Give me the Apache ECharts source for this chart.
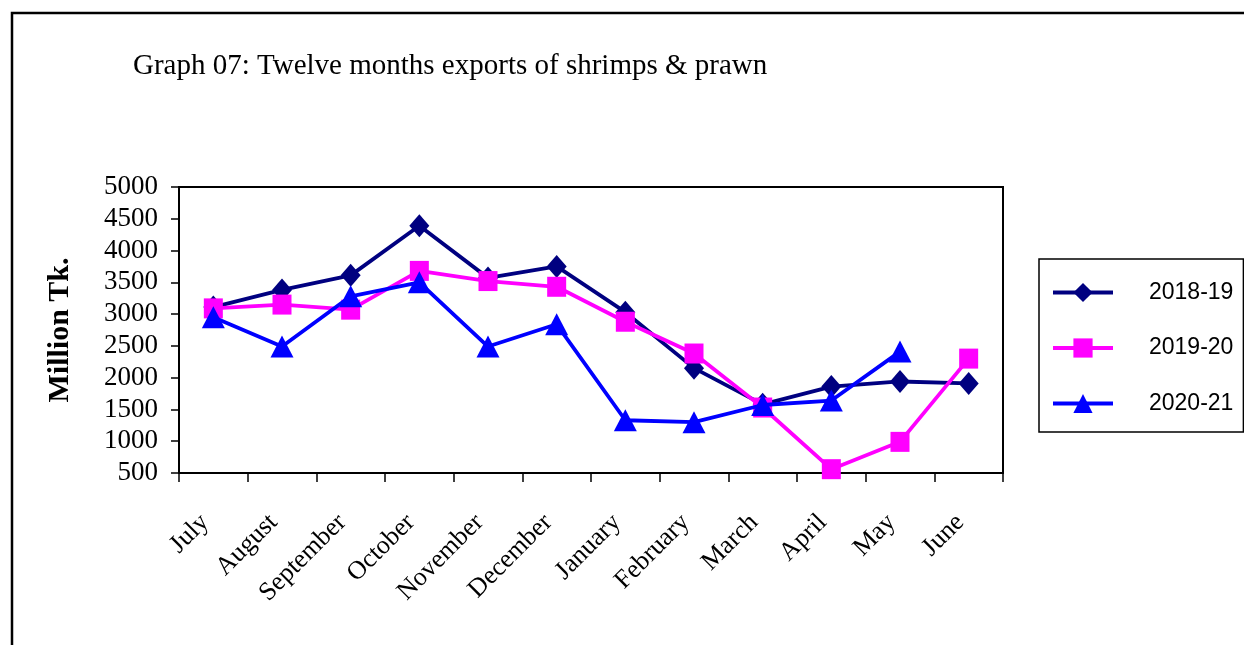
<!DOCTYPE html>
<html>
<head>
<meta charset="utf-8">
<script src="https://cdn.jsdelivr.net/npm/echarts@6/dist/echarts.min.js"></script>
<style>
html,body{margin:0;padding:0;background:#fff;}
#chart{width:1244px;height:645px;}
</style>
</head>
<body>
<div id="chart"></div>
<script>
const titleText = 'Graph 07: Twelve months exports of shrimps & prawn';
const months = ['July','August','September','October','November','December','January','February','March','April','May','June'];
const seriesNames = ['2018-19','2019-20','2020-21'];
const s2018 = [3110, 3380, 3610, 4390, 3570, 3750, 3030, 2150, 1580, 1860, 1940, 1910];
const s2019 = [3090, 3150, 3070, 3680, 3520, 3430, 2880, 2380, 1530, 560, 990, 2300];
const s2020 = [2950, 2490, 3280, 3500, 2490, 2840, 1330, 1300, 1570, 1640, 2410, null];
const yTicks = {min: 500, max: 5000, interval: 500};
const yName = 'Million Tk.';

const serif = "'Liberation Serif', 'Times New Roman', serif";
const sans = "'Liberation Sans', Arial, sans-serif";
const chart = echarts.init(document.getElementById('chart'), null, {renderer: 'canvas'});
chart.setOption({
  backgroundColor: '#ffffff',
  animation: false,
  title: {
    text: titleText,
    left: 128, top: 47,
    textStyle: {fontFamily: serif, fontSize: 29, fontWeight: 'normal', color: '#000'}
  },
  graphic: [{
    type: 'rect', shape: {x: 12, y: 13, width: 1400, height: 800},
    style: {fill: 'none', stroke: '#000', lineWidth: 2.5}, silent: true
  }],
  grid: {
    left: 179, right: 241, top: 187, bottom: 172,
    show: true, borderColor: '#000', borderWidth: 2, backgroundColor: 'transparent'
  },
  legend: {
    orient: 'vertical', left: 1039, top: 259,
    width: 202,
    padding: [22, 10, 17, 12],
    itemGap: 32.5, itemWidth: 60, itemHeight: 24,
    borderColor: '#000', borderWidth: 1.5,
    backgroundColor: '#fff',
    lineStyle: {width: 4},
    textStyle: {fontFamily: sans, fontSize: 23, color: '#000', padding: [0, 0, 0, 31]},
    data: seriesNames
  },
  xAxis: {
    type: 'category', data: months, boundaryGap: true,
    axisLine: {lineStyle: {color: '#000', width: 2}},
    axisTick: {show: true, length: 9, lineStyle: {color: '#000', width: 1.5}},
    axisLabel: {rotate: 45, margin: 37, color: '#000', fontFamily: serif, fontSize: 26,
                interval: 0, padding: [0, 12, 0, 0]}
  },
  yAxis: {
    type: 'value', min: yTicks.min, max: yTicks.max, interval: yTicks.interval,
    name: yName, nameLocation: 'middle', nameRotate: 90, nameGap: 104,
    nameTextStyle: {fontFamily: serif, fontSize: 30, fontWeight: 'bold', color: '#000'},
    splitLine: {show: false},
    axisLine: {show: true, lineStyle: {color: '#000', width: 2}},
    axisTick: {show: true, length: 8, lineStyle: {color: '#000', width: 1.5}},
    axisLabel: {color: '#000', fontFamily: serif, fontSize: 27, margin: 21,
                formatter: function (v) { return String(v); }}
  },
  series: [
    {name: seriesNames[0], type: 'line', data: s2018, symbol: 'diamond', symbolSize: [20, 23],
     lineStyle: {color: '#000080', width: 3.8}, itemStyle: {color: '#000080'}, z: 3},
    {name: seriesNames[1], type: 'line', data: s2019, symbol: 'rect', symbolSize: [19, 20],
     lineStyle: {color: '#FF00FF', width: 3.8}, itemStyle: {color: '#FF00FF'}, z: 4},
    {name: seriesNames[2], type: 'line', data: s2020, symbol: 'triangle', symbolSize: [23, 22],
     lineStyle: {color: '#0000FF', width: 3.8}, itemStyle: {color: '#0000FF'}, z: 5}
  ]
});
</script>
</body>
</html>
